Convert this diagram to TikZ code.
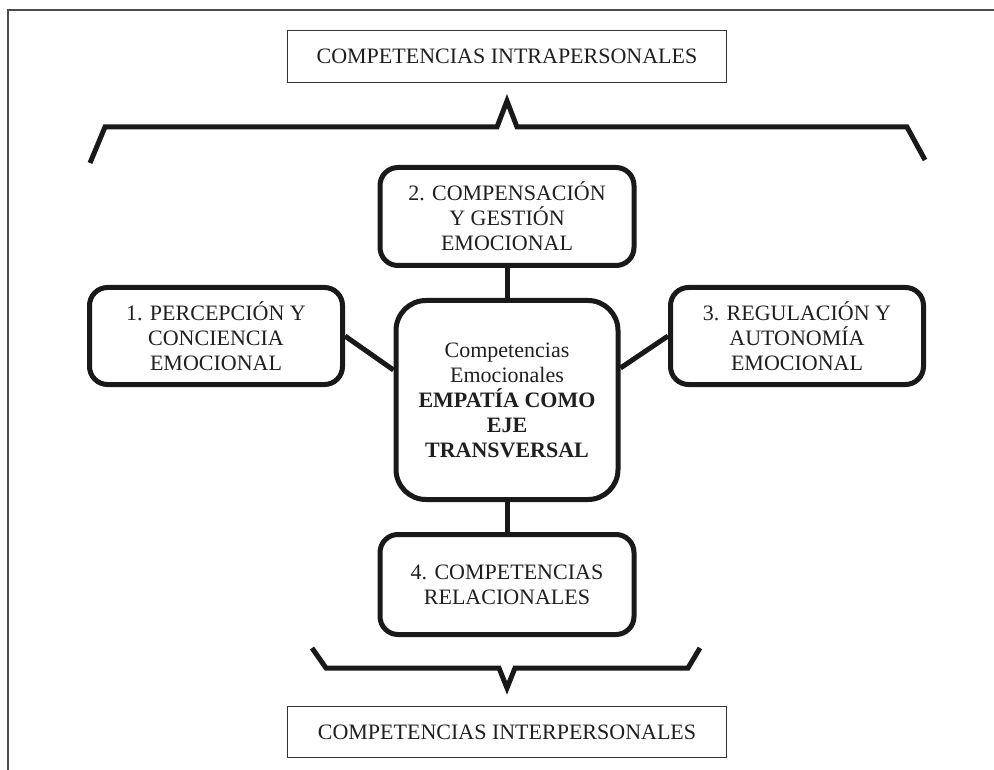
\documentclass[tikz,border=0pt]{standalone}
\usepackage{fontspec}
\setmainfont{Liberation Serif}
\begin{document}
\begin{tikzpicture}[x=1pt,y=-1pt,
  txt/.style={font=\fontsize{22}{25}\selectfont, text=black!88, align=center, inner sep=0pt},
  thinbox/.style={txt, draw=black!80, line width=1.4pt},
  rbox/.style={txt, draw=black!90, line width=5pt, rounded corners=18pt},
  cbox/.style={txt, draw=black!90, line width=5pt, rounded corners=30pt},
  conn/.style={draw=black!90, line width=5pt},
  brace/.style={draw=black!90, line width=5pt, line join=miter},
  frame/.style={draw=black!70, line width=2pt}]
\useasboundingbox (0,0) rectangle (994,770);
% frame (cropped: top and left sides only)
\coordinate (f1) at (8,770);
\coordinate (f2) at (8,10);
\coordinate (f3) at (1000,10);
\draw[frame] (f1) -- (f2) -- (f3);
% headings
\node[thinbox, minimum width=439pt, minimum height=52pt] (top) at (507,56.5) {COMPETENCIAS INTRAPERSONALES};
\node[thinbox, minimum width=439pt, minimum height=51pt] (bot) at (507,732) {COMPETENCIAS INTERPERSONALES};
% braces
\coordinate (ta) at (90,163);
\coordinate (tb) at (105,127);
\coordinate (tc) at (497,127);
\coordinate (td) at (507,101);
\coordinate (te) at (517,127);
\coordinate (tf) at (907,127);
\coordinate (tg) at (925,160);
\draw[brace] (ta) -- (tb) -- (tc) -- (td) -- (te) -- (tf) -- (tg);
\coordinate (ba) at (312,648);
\coordinate (bb) at (326,668);
\coordinate (bc) at (499,668);
\coordinate (bd) at (507,688);
\coordinate (be) at (515,668);
\coordinate (bf) at (688,668);
\coordinate (bg) at (700,648);
\draw[brace] (ba) -- (bb) -- (bc) -- (bd) -- (be) -- (bf) -- (bg);
% boxes
\node[rbox, minimum width=253pt, minimum height=97pt] (b1) at (216,336) {1. PERCEPCIÓN Y\\CONCIENCIA\\EMOCIONAL};
\node[rbox, minimum width=254pt, minimum height=98pt] (b2) at (507,216.5) {2. COMPENSACIÓN\\Y GESTIÓN\\EMOCIONAL};
\node[rbox, minimum width=253pt, minimum height=97pt] (b3) at (797,336) {3. REGULACIÓN Y\\AUTONOMÍA\\EMOCIONAL};
\node[rbox, minimum width=254pt, minimum height=100pt] (b4) at (507,584.5) {4. COMPETENCIAS\\RELACIONALES};
\node[cbox, minimum width=222pt, minimum height=199pt] (c) at (507,400) {Competencias\\Emocionales\\\textbf{EMPATÍA COMO}\\\textbf{EJE}\\\textbf{TRANSVERSAL}};
% connectors
\draw[conn] (b2.south) -- (c.north);
\draw[conn] (c.south) -- (b4.north);
\draw[conn] (b1.east) -- ([yshift=30pt]c.west);
\draw[conn] ([yshift=32pt]c.east) -- (b3.west);
\end{tikzpicture}
\end{document}
